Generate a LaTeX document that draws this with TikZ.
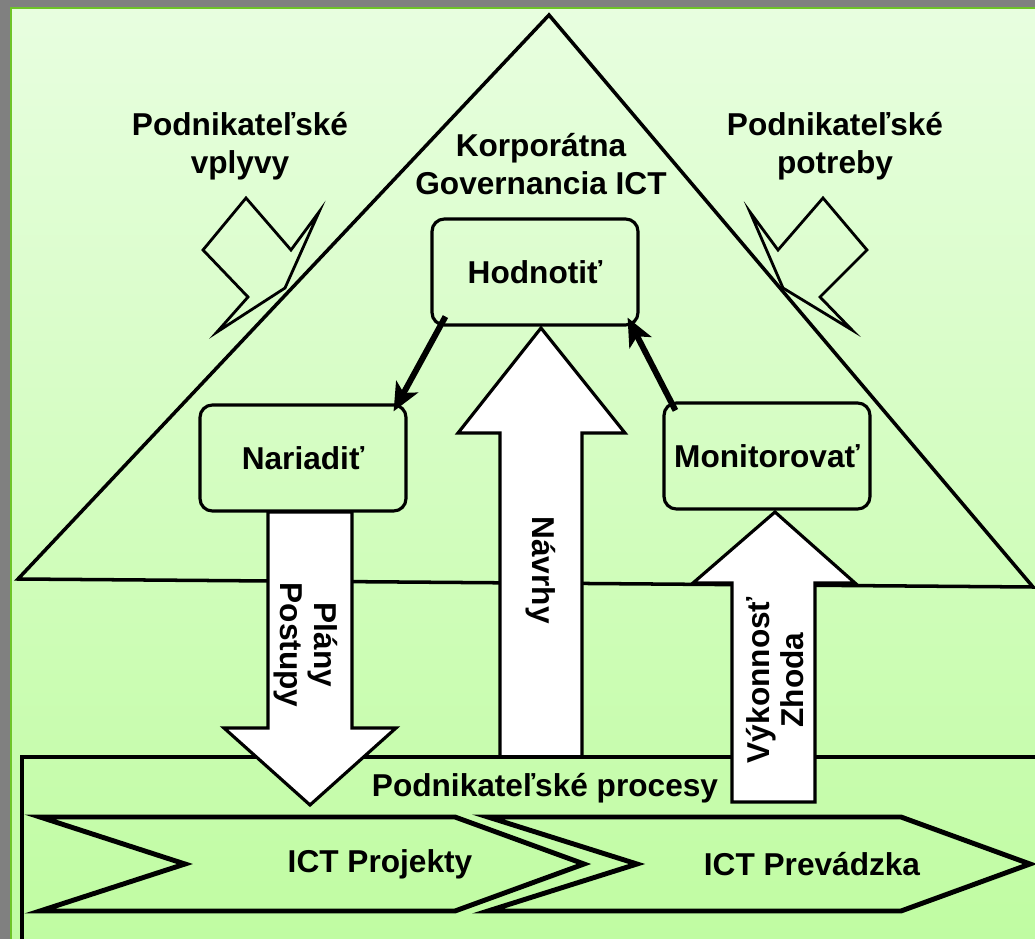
\documentclass[tikz,border=0pt]{standalone}
\usepackage{fontspec}
\setmainfont{Liberation Sans}
\usetikzlibrary{arrows.meta,calc}

\definecolor{bgtop}{RGB}{232,254,224}
\definecolor{bgbottom}{RGB}{192,252,162}
\definecolor{frame}{RGB}{128,128,128}
\definecolor{rim}{RGB}{110,196,40}

\begin{document}
\begin{tikzpicture}[x=0.02cm, y=-0.02cm, line join=miter,
	main node/.style={rectangle,rounded corners=7pt,draw,line width=1.8pt,
		minimum width=4.12cm,minimum height=2.12cm,font=\bfseries\fontsize{18}{21.6}\selectfont},
	label node/.style={align=center,font=\bfseries\fontsize{18}{21.6}\selectfont},
	turn node/.style={align=center,font=\bfseries\fontsize{18}{19}\selectfont},
	block arrow/.style={draw,fill=white,line width=1.8pt},
	flow arrow/.style={line width=3.4pt,-{Stealth[length=16pt,width=14pt,inset=4pt]}},
	inflow/.style={draw,line width=1.6pt},
	chevron/.style={draw,line width=2.8pt}]
	
	% background and frame
	\useasboundingbox (0,0) rectangle (1035,939);
	\shade[top color=bgtop,bottom color=bgbottom] (0,0) rectangle (1035,939);
	\fill[rim] (0,0) rectangle (12,939);
	\fill[rim] (0,0) rectangle (1035,9);
	\fill[frame] (0,0) rectangle (10,939);
	\fill[frame] (0,0) rectangle (1035,7);
	
	% governance triangle
	\draw[line width=2pt] (18,579) -- (549,15) -- (1033,587) -- cycle;
	\node[label node] (gov) at (541,164) {Korporátna\\Governancia ICT};
	\node[label node] (vplyvy) at (240,146) {Podnikateľské\\vplyvy};
	\node[label node] (potreby) at (835,146) {Podnikateľské\\potreby};
	
	% inflow arrows
	\draw[inflow] (246,198) -- (203,250) -- (248,297) -- (217,332) -- (285,288)
		-- (319,212) -- (291,250) -- cycle;
	\draw[inflow] (823,198) -- (867,250) -- (820,297) -- (852,330) -- (783,288)
		-- (750,212) -- (778,250) -- cycle;
	
	% governance boxes
	\node[main node] (hodnotit) at (535,272) {Hodnotiť};
	\node[main node] (nariadit) at (303,458) {Nariadiť};
	\node[main node] (monitor) at (767,456) {Monitorovať};
	
	% proposals up to evaluation
	\draw[block arrow] (500,757) -- (500,433) -- (458,433) -- (541,328)
		-- (625,433) -- (582,433) -- (582,757) -- cycle;
	\node[turn node,rotate=-90] (navrhy) at (541,570) {Návrhy};
	
	% business processes
	\draw[line width=2.3pt] (1040,757) -- (22,757) -- (22,945);
	\node[label node] (procesy) at (545,788) {Podnikateľské procesy};
	\draw[chevron] (40,817) -- (455,817) -- (584,864) -- (455,911) -- (40,911)
		-- (185,864) -- cycle;
	\draw[chevron] (488,817) -- (901,817) -- (1030,864) -- (901,911) -- (488,911)
		-- (637,864) -- cycle;
	\node[label node] (projekty) at (380,864) {ICT Projekty};
	\node[label node] (prevadzka) at (812,864) {ICT Prevádzka};
	
	% plans down, performance up
	\draw[block arrow] (268,512) -- (352,512) -- (352,728) -- (396,728) -- (310,805)
		-- (224,728) -- (268,728) -- cycle;
	\node[turn node,rotate=-90] (plany) at (306,645) {Plány\\Postupy};
	\draw[block arrow] (732,802) -- (732,583) -- (693,583) -- (775,512)
		-- (855,583) -- (815,583) -- (815,802) -- cycle;
	\node[turn node,rotate=90] (vykon) at (775,680) {Výkonnosť\\Zhoda};
	
	% direct and monitor loop
	\draw[flow arrow] ($(hodnotit.south west)+(15,-10)$) -- ($(nariadit.north east)+(-14,8)$);
	\draw[flow arrow] ($(monitor.north west)+(13,9)$) -- ($(hodnotit.south east)+(-12,-9)$);
\end{tikzpicture}
\end{document}
